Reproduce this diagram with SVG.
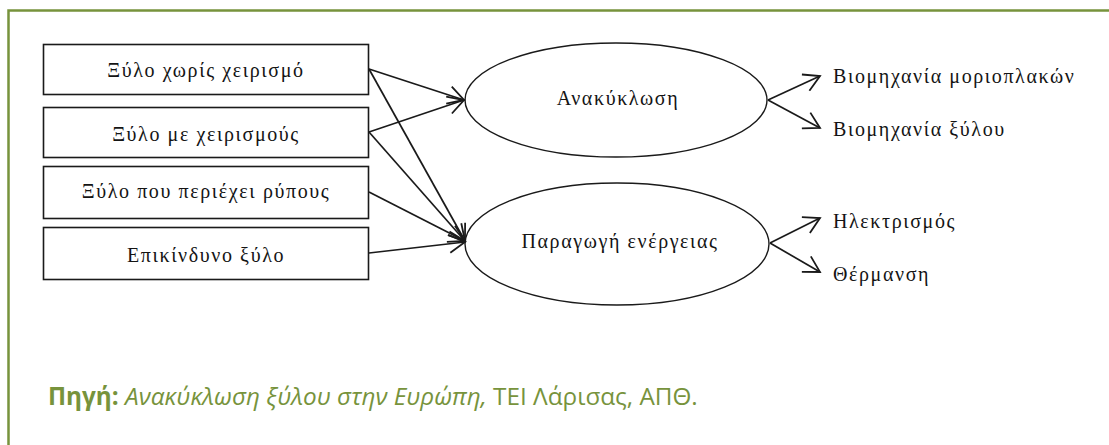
<svg xmlns="http://www.w3.org/2000/svg" width="1109" height="445" viewBox="0 0 1109 445">
  <style>
    .frame { stroke: #77933c; stroke-width: 2.5; fill: none; }
    .box { fill: #ffffff; stroke: #1a1a1a; stroke-width: 1.6; }
    .oval { fill: #ffffff; stroke: #1a1a1a; stroke-width: 1.4; }
    .lbl { font-family: "Liberation Serif", "Times New Roman", serif; font-size: 20px; letter-spacing: 1.6px; fill: #141414; }
    .mid { text-anchor: middle; }
    .edge { stroke: #1a1a1a; stroke-width: 1.7; fill: none; marker-end: url(#chev); }
    .cap { font-family: "Open Sans", "Noto Sans", sans-serif; font-size: 24.3px; fill: #77933c; }
  </style>
  <defs>
    <marker id="chev" markerUnits="userSpaceOnUse" markerWidth="20" markerHeight="20" viewBox="-1 -1 17 19" refX="15" refY="8.5" orient="auto">
      <path d="M0,0 L15,8.5 L0,17" fill="none" stroke="#1a1a1a" stroke-width="1.7"/>
    </marker>
  </defs>

  <rect width="1109" height="445" fill="#ffffff"/>
  <!-- frame: top and left rules only -->
  <path class="frame" d="M8.5,445 V10.5 H1109"/>

  <g id="n-untreated">
    <rect class="box" x="43.5" y="44.5" width="325" height="50"/>
    <text class="lbl mid" x="206" y="77">Ξύλο χωρίς χειρισμό</text>
  </g>
  <g id="n-treated">
    <rect class="box" x="43.5" y="107.5" width="325" height="50"/>
    <text class="lbl mid" x="206" y="141">Ξύλο με χειρισμούς</text>
  </g>
  <g id="n-contaminated">
    <rect class="box" x="43.5" y="166.5" width="325" height="52"/>
    <text class="lbl mid" x="206" y="198">Ξύλο που περιέχει ρύπους</text>
  </g>
  <g id="n-hazardous">
    <rect class="box" x="43.5" y="227.5" width="325" height="52"/>
    <text class="lbl mid" x="206" y="262">Επικίνδυνο ξύλο</text>
  </g>

  <g id="n-recycling">
    <ellipse class="oval" cx="616" cy="100" rx="151" ry="57"/>
    <text class="lbl mid" x="618" y="105">Ανακύκλωση</text>
  </g>
  <g id="n-energy">
    <ellipse class="oval" cx="617" cy="244" rx="152" ry="61"/>
    <text class="lbl mid" x="620" y="248">Παραγωγή ενέργειας</text>
  </g>

  <g id="n-particleboard"><text class="lbl" x="833" y="83">Βιομηχανία μοριοπλακών</text></g>
  <g id="n-woodindustry"><text class="lbl" x="833" y="136">Βιομηχανία ξύλου</text></g>
  <g id="n-electricity"><text class="lbl" x="833" y="228">Ηλεκτρισμός</text></g>
  <g id="n-heating"><text class="lbl" x="833" y="281">Θέρμανση</text></g>

  <g id="connectors">
    <line class="edge" x1="369" y1="69" x2="464" y2="100"/>
    <line class="edge" x1="369" y1="69" x2="465" y2="241"/>
    <line class="edge" x1="369" y1="132" x2="464" y2="100"/>
    <line class="edge" x1="369" y1="132" x2="465" y2="241"/>
    <line class="edge" x1="369" y1="192" x2="465" y2="241"/>
    <line class="edge" x1="369" y1="253" x2="465" y2="242"/>
    <line class="edge" x1="768" y1="100" x2="820" y2="76"/>
    <line class="edge" x1="768" y1="100" x2="820" y2="128"/>
    <line class="edge" x1="770" y1="243" x2="820" y2="218"/>
    <line class="edge" x1="770" y1="243" x2="820" y2="272"/>
  </g>

  <text class="cap" x="48" y="405"><tspan font-weight="bold">Πηγή:</tspan> <tspan font-style="italic">Ανακύκλωση ξύλου στην Ευρώπη,</tspan> ΤΕΙ Λάρισας, ΑΠΘ.</text>
</svg>
